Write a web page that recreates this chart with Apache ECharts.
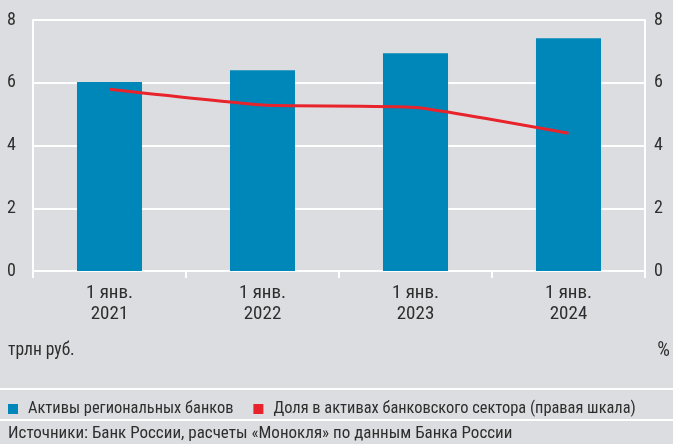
<!DOCTYPE html>
<html><head><meta charset="utf-8">
<script src="https://cdn.jsdelivr.net/npm/echarts@6/dist/echarts.min.js"></script>
<style>html,body{margin:0;padding:0;background:#dcdde0}#c{width:673px;height:444px}</style>
</head><body><div id="c"></div>
<script>
const categories = ['1 янв.\n2021', '1 янв.\n2022', '1 янв.\n2023', '1 янв.\n2024'];
const assets = [6.02, 6.40, 6.94, 7.42];
const share = [5.79, 5.29, 5.21, 4.39];
const yTicks = [0, 2, 4, 6, 8];
const seriesNames = ['Активы региональных банков', 'Доля в активах банковского сектора (правая шкала)'];
const leftUnit = 'трлн руб.';
const rightUnit = '%';
const source = 'Источники: Банк России, расчеты «Монокля» по данным Банка России';

const FONT = '"Roboto Condensed", "Liberation Sans Narrow", sans-serif';
const TXT = '#2e2e2e';
const chart = echarts.init(document.getElementById('c'));
chart.setOption({
  backgroundColor: '#dcdde0',
  animation: false,
  textStyle: {fontFamily: FONT, color: TXT},
  grid: {left: 33, right: 28, top: 20, bottom: 173},
  legend: {
    left: 3, top: 396, itemWidth: 10, itemHeight: 10, itemGap: 20,
    icon: 'rect', width: 665,
    textStyle: {fontFamily: FONT, fontSize: 16.4, color: TXT, padding: [0, 0, 0, 5]},
    data: seriesNames
  },
  xAxis: {
    type: 'category', data: categories,
    axisLine: {show: true, lineStyle: {color: '#ffffff', width: 2}},
    axisTick: {show: true, length: 7, lineStyle: {color: '#ffffff', width: 2}},
    axisLabel: {fontFamily: FONT, fontSize: 19, color: TXT, margin: 12, lineHeight: 21}
  },
  yAxis: [{
    type: 'value', min: yTicks[0], max: yTicks[yTicks.length - 1], interval: 2,
    axisLine: {show: true, lineStyle: {color: '#ffffff', width: 2}},
    axisTick: {show: false},
    splitLine: {lineStyle: {color: '#ffffff', width: 2}},
    axisLabel: {fontFamily: FONT, fontSize: 18, color: TXT, margin: 17}
  }, {
    type: 'value', min: yTicks[0], max: yTicks[yTicks.length - 1], interval: 2,
    axisLine: {show: true, lineStyle: {color: '#ffffff', width: 2}},
    axisTick: {show: false},
    splitLine: {show: false},
    axisLabel: {fontFamily: FONT, fontSize: 18, color: TXT, margin: 9}
  }],
  series: [{
    name: seriesNames[0], type: 'bar', data: assets, barWidth: '42.5%',
    itemStyle: {color: '#0087b9'}, yAxisIndex: 0
  }, {
    name: seriesNames[1], type: 'line', data: share, yAxisIndex: 1,
    smooth: 0.15, showSymbol: false, symbol: 'none',
    lineStyle: {color: '#e8232b', width: 3}, itemStyle: {color: '#e8232b'}
  }],
  graphic: [
    {type: 'text', left: 8, top: 342, style: {text: leftUnit, font: '17.5px ' + FONT, fill: TXT}},
    {type: 'text', right: 3, top: 341, style: {text: rightUnit, font: '20px ' + FONT, fill: TXT}},
    {type: 'rect', shape: {x: 0, y: 388, width: 673, height: 2}, style: {fill: '#ffffff'}},
    {type: 'rect', shape: {x: 0, y: 419, width: 673, height: 2}, style: {fill: '#ffffff'}},
    {type: 'text', left: 8, top: 425, style: {text: source, font: '17px ' + FONT, fill: TXT}}
  ]
});
</script></body></html>
